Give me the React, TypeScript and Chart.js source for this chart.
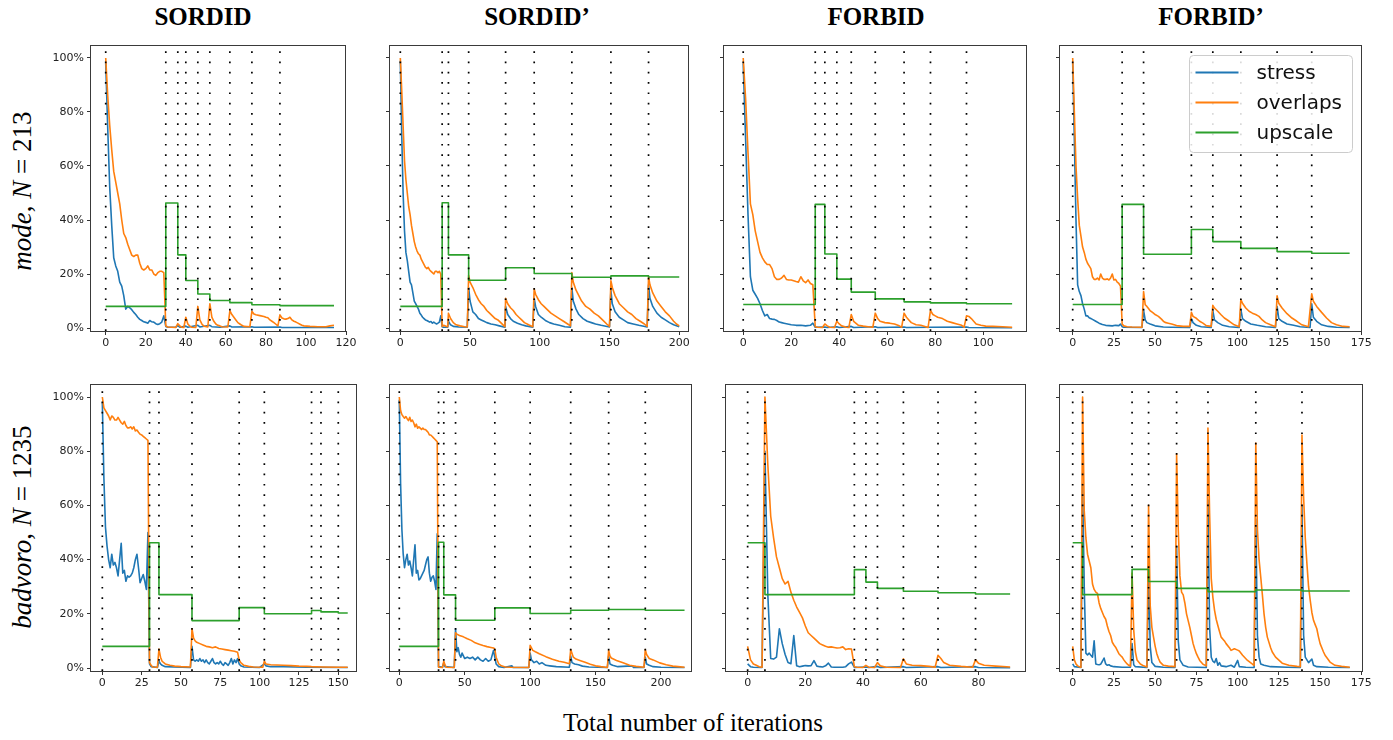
import React, { useEffect, useRef } from 'react';
import { Chart, registerables } from 'chart.js';

Chart.register(...registerables);

type Pt = [number, number];

// ---------- labels / ticks ----------
const seriesNames = ['stress', 'overlaps', 'upscale'];
const seriesColors = ['#1f77b4', '#ff7f0e', '#2ca02c'];
const columnTitles = ['SORDID', 'SORDID\u2019', 'FORBID', 'FORBID\u2019'];
const rowDatasets = ['mode', 'badvoro'];
const rowSizes = ['213', '1235'];
const xAxisTitle = 'Total number of iterations';
const yTicks = [0, 20, 40, 60, 80, 100];
const xTicks120 = [0, 20, 40, 60, 80, 100, 120];
const xTicks200 = [0, 50, 100, 150, 200];
const xTicks100 = [0, 20, 40, 60, 80, 100];
const xTicks175 = [0, 25, 50, 75, 100, 125, 150, 175];
const xTicks150 = [0, 25, 50, 75, 100, 125, 150];
const xTicks80 = [0, 20, 40, 60, 80];

// ---------- SORDID / mode ----------
const sordidModeBreaks = [0, 30, 36, 40, 46, 52, 62, 73, 87];
const sordidModeUpscale: Pt[] = [[0, 8], [30, 46.3], [36, 27.1], [40, 17.6], [46, 12.6], [52, 10.2], [62, 9.4], [73, 8.6], [87, 8.3], [114, 8.3]];
const sordidModeStress: Pt[] = [[0, 98], [1, 74], [2, 52], [3, 38], [4, 26], [5, 23], [6, 21], [7, 17], [8, 15.5], [9, 12], [10, 7], [11, 8], [12, 7.5], [13, 6.8], [14, 5.8], [15, 5], [16, 4], [17, 3.2], [18, 2.8], [19, 2.3], [20, 2.1], [21, 1.8], [22, 2.8], [23, 2.3], [24, 2.2], [25, 1.6], [26, 1.3], [27, 1.6], [28, 2.2], [29, 4.5], [30, 0.6], [31, 0.3], [35, 0.3], [36, 0.9], [37, 0.3], [40, 0.7], [41, 0.3], [46, 1], [47, 0.4], [52, 1], [53, 0.5], [57, 0.3], [62, 0.8], [63, 0.4], [73, 0.5], [74, 0.3], [87, 0.4], [88, 0.2], [114, 0.2]];
const sordidModeOverlaps: Pt[] = [[0, 100], [1, 86], [2, 75], [3, 66], [4, 58], [5, 54], [6, 50], [7, 46], [8, 40], [9, 35], [10, 33.5], [11, 31], [12, 29], [13, 27], [14, 26.5], [15, 27], [16, 27], [17, 24], [18, 22], [19, 21.5], [20, 22], [21, 23], [22, 21.5], [23, 21.5], [24, 20], [25, 19.5], [26, 20.5], [27, 21], [28, 21], [29, 20.5], [30, 0.8], [31, 0.4], [35, 0.2], [36, 1.6], [37, 0.8], [38, 0.3], [39, 0.2], [40, 4], [41, 1.5], [42, 0.7], [43, 0.3], [45, 0.2], [46, 8], [47, 3], [48, 1.5], [49, 0.7], [51, 0.4], [52, 9], [53, 4], [54, 2.5], [55, 1.5], [56, 1], [57, 0.8], [58, 0.5], [61, 0.4], [62, 6.4], [63, 5], [64, 4], [65, 3], [66, 2], [67, 1.5], [68, 1], [69, 0.6], [72, 0.5], [73, 6.2], [74, 5.2], [75, 4.9], [77, 4.6], [79, 4.3], [80, 4], [81, 3.8], [82, 3], [83, 2.5], [84, 2], [85, 1.4], [86, 0.8], [87, 4.9], [88, 3.7], [89, 3.4], [90, 3.3], [91, 3.5], [92, 4], [93, 3], [94, 2.5], [95, 2.2], [96, 1.8], [97, 1.4], [98, 1], [99, 0.8], [102, 0.6], [106, 0.5], [110, 0.5], [112, 0.8], [114, 1]];

// ---------- SORDID' / mode ----------
const sordidPModeBreaks = [0, 30, 34.5, 49, 75.5, 96, 123, 151, 178];
const sordidPModeUpscale: Pt[] = [[0, 8], [30, 46.4], [34.5, 27.1], [49, 17.7], [75.5, 22.3], [96, 20.2], [123, 18.8], [151, 19.3], [178, 18.9], [200, 18.9]];
const sordidPModeStress: Pt[] = [[0, 99], [1, 72], [2, 50], [3, 36], [4, 28], [5, 25], [6, 21], [7, 17], [8, 16], [9, 13], [10, 10], [11, 9], [12, 8], [13, 7], [14, 5.5], [15, 4.8], [16, 4], [17, 3.5], [18, 3], [19, 2.8], [20, 2.5], [21, 2.2], [22, 2.4], [23, 1.8], [24, 2.2], [25, 1.8], [26, 1.5], [27, 1.8], [28, 2.2], [29, 4.5], [30, 0.5], [31, 0.3], [34, 0.3], [34.5, 2.5], [36, 1.2], [38, 0.6], [42, 0.4], [48, 0.3], [49, 15], [50, 10], [51, 8], [52, 6], [54, 5], [56, 3.5], [58, 3], [60, 2.5], [62, 2], [65, 1.5], [68, 1.2], [71, 0.8], [75, 0.3], [75.5, 8], [77, 5], [79, 3.5], [81, 2.5], [84, 1.8], [87, 1.2], [90, 0.8], [95, 0.3], [96, 11], [97, 8], [99, 5], [101, 4], [104, 2.8], [107, 2], [110, 1.5], [114, 1], [118, 0.5], [122, 0.3], [123, 15], [124, 10], [126, 7], [128, 5], [131, 3.5], [134, 2.5], [137, 2], [140, 1.5], [144, 1], [150, 0.4], [151, 14], [152, 9], [154, 6], [157, 4], [160, 3], [163, 2], [167, 1.5], [171, 1], [177, 0.4], [178, 16], [179, 11], [181, 8], [184, 5.5], [187, 4], [190, 3], [193, 2], [196, 1.2], [200, 0.5]];
const sordidPModeOverlaps: Pt[] = [[0, 100], [1, 88], [2, 75], [3, 62], [4, 55], [5, 50], [6, 45], [7, 42], [8, 38], [9, 35], [10, 32], [11, 30], [12, 28.5], [13, 27.5], [14, 27], [15, 25.5], [16, 24.5], [17, 23.5], [18, 22.5], [19, 22], [20, 22.5], [21, 21.5], [22, 21], [23, 20.5], [24, 20], [25, 21], [26, 21], [27, 20.5], [28, 21], [29, 20], [30, 0.6], [31, 1], [32, 0.8], [33, 0.6], [34, 0.5], [34.5, 5.5], [36, 3.5], [38, 2], [40, 1.2], [43, 0.8], [46, 0.5], [48, 0.4], [49, 19.5], [50, 17], [52, 15], [54, 12.5], [56, 10.5], [58, 9], [60, 8], [62, 6.5], [64, 5.5], [66, 4.5], [68, 3.5], [70, 3], [72, 2], [74, 1], [75, 0.5], [75.5, 11], [77, 9], [79, 7.5], [81, 6.5], [83, 5], [85, 4], [87, 3], [89, 2], [92, 1.2], [95, 0.5], [96, 14.5], [97, 12.5], [99, 10.5], [101, 9], [103, 8], [105, 7], [108, 5.5], [111, 4.5], [114, 3.5], [117, 2.5], [120, 1.5], [122, 0.8], [123, 20.5], [124, 17], [126, 14], [128, 12], [130, 10], [133, 8], [136, 7], [139, 5.5], [142, 4.5], [145, 3], [148, 1.5], [150, 0.6], [151, 17.5], [152, 15], [154, 12], [157, 9], [160, 7.5], [163, 6], [166, 5], [169, 3.5], [172, 2.5], [175, 1.5], [177, 0.6], [178, 19], [179, 16], [181, 13], [184, 10], [187, 8], [190, 6], [193, 4.5], [196, 2.5], [198, 1.5], [200, 0.8]];

// ---------- FORBID / mode ----------
const forbidModeBreaks = [0, 30, 34, 39, 45, 55, 67, 78, 93];
const forbidModeUpscale: Pt[] = [[0, 8.7], [30, 45.8], [34, 27.4], [39, 18.1], [45, 13.3], [55, 10.8], [67, 9.7], [78, 9.3], [93, 9.0], [112, 9.0]];
const forbidModeStress: Pt[] = [[0, 98], [1, 70], [2, 42], [3, 19], [4, 14], [5, 12.5], [6, 11], [7, 9], [8, 6.5], [9, 4.5], [10, 5], [11, 3.5], [12, 3.3], [13, 3.2], [14, 2.8], [15, 2.2], [16, 2], [17, 1.8], [18, 1.6], [19, 1.4], [20, 1.2], [22, 1], [24, 1], [26, 0.8], [28, 1], [29, 1.8], [30, 0.3], [34, 0.4], [35, 0.2], [39, 0.5], [40, 0.2], [45, 0.6], [46, 0.2], [55, 0.5], [56, 0.2], [67, 0.4], [68, 0.2], [78, 0.3], [93, 0.4], [94, 0.2], [112, 0.1]];
const forbidModeOverlaps: Pt[] = [[0, 100], [1, 85], [2, 65], [3, 46], [4, 42], [5, 36], [6, 32], [7, 28], [8, 26], [9, 24.5], [10, 23.5], [11, 23.5], [12, 22], [13, 19], [14, 18], [15, 18], [16, 18.5], [17, 19.5], [18, 18], [19, 17.8], [20, 17.8], [21, 17.5], [22, 17.2], [23, 17], [24, 19], [25, 17.5], [26, 16.8], [27, 17.8], [28, 16.5], [29, 16], [30, 0.5], [31, 0.3], [33, 0.2], [34, 1.5], [35, 0.8], [36, 0.3], [38, 0.2], [39, 2.5], [40, 1.5], [41, 0.8], [43, 0.3], [44, 0.2], [45, 5], [46, 2.5], [48, 1], [50, 0.7], [52, 0.5], [54, 0.3], [55, 5.5], [56, 3.5], [57, 2.5], [59, 2], [61, 1.8], [63, 1.5], [65, 0.8], [66, 0.3], [67, 5.5], [68, 4], [69, 3], [70, 2], [72, 1.2], [74, 1], [76, 0.5], [77, 0.2], [78, 6.5], [79, 5], [80, 4.5], [81, 4], [83, 3.5], [85, 2.5], [87, 2], [89, 1.5], [91, 1], [92, 0.3], [93, 4.5], [94, 4.3], [95, 3.5], [96, 2.5], [97, 1.5], [99, 1], [101, 0.7], [104, 0.6], [108, 0.5], [112, 0.3]];

// ---------- FORBID' / mode ----------
const forbidPModeBreaks = [0, 30, 43, 72, 85, 102, 124, 145];
const forbidPModeUpscale: Pt[] = [[0, 8.7], [30, 45.8], [43, 27.3], [72, 36.5], [85, 32], [102, 29.5], [124, 28.3], [145, 27.7], [168, 27.7]];
const forbidPModeStress: Pt[] = [[0, 98], [1, 70], [2, 40], [3, 16], [4, 13.5], [5, 12], [6, 9], [7, 7], [8, 4.5], [9, 4.5], [10, 3.8], [11, 3.5], [12, 3.2], [14, 2.5], [16, 1.8], [18, 1.3], [20, 1], [22, 0.9], [24, 0.8], [26, 1], [28, 0.9], [29, 1.5], [30, 0.5], [31, 0.3], [42, 0.2], [43, 6.5], [44, 3], [45, 2], [47, 1.5], [50, 0.8], [55, 0.4], [60, 0.3], [71, 0.2], [72, 3.5], [73, 2], [75, 1], [78, 0.5], [84, 0.2], [85, 6.5], [86, 3], [88, 2], [91, 1], [95, 0.5], [101, 0.2], [102, 7], [103, 3.5], [105, 2.5], [108, 1.5], [112, 1], [117, 0.5], [123, 0.2], [124, 8], [125, 3.5], [127, 2.5], [130, 1.5], [134, 1], [138, 0.5], [144, 0.2], [145, 9], [146, 4], [148, 2.5], [151, 1.2], [155, 0.6], [160, 0.3], [168, 0.2]];
const forbidPModeOverlaps: Pt[] = [[0, 100], [1, 80], [2, 60], [3, 48], [4, 38], [5, 34], [6, 30], [7, 28], [8, 25.5], [9, 24], [10, 23], [11, 22], [12, 19], [13, 18], [14, 18], [15, 18.5], [16, 17.8], [17, 20], [18, 18.5], [19, 18], [20, 18], [21, 18.2], [22, 17.8], [23, 18.5], [24, 20], [25, 17.8], [26, 18], [27, 17], [28, 16.5], [29, 15.5], [30, 1.5], [31, 0.8], [33, 0.5], [36, 0.4], [42, 0.3], [43, 13.5], [44, 8.6], [45, 8], [46, 7.2], [47, 6.4], [48, 6], [49, 5.5], [50, 5], [52, 4.3], [54, 3.2], [55, 2.5], [56, 2.1], [58, 1.8], [60, 1.5], [63, 0.9], [67, 0.6], [71, 0.6], [72, 5.8], [73, 4.3], [75, 3.6], [77, 2.5], [79, 1.8], [81, 0.9], [84, 0.6], [85, 8.4], [86, 7.4], [88, 6.2], [90, 4.9], [92, 3.7], [95, 2.5], [98, 1.2], [101, 0.5], [102, 10.5], [103, 9.2], [105, 7.4], [107, 6.2], [109, 5.5], [111, 5], [113, 4.3], [115, 3], [117, 2], [120, 1.2], [123, 0.5], [124, 11.9], [125, 9.2], [127, 7.4], [130, 5.3], [133, 3.7], [136, 2.5], [139, 1.2], [143, 0.5], [145, 12.7], [146, 9.9], [148, 8], [151, 5.8], [154, 3.7], [157, 2], [160, 1.2], [164, 0.6], [168, 0.5]];

// ---------- SORDID / badvoro ----------
const sordidBadBreaks = [0, 30, 36, 57, 87, 103, 133, 139, 150];
const sordidBadUpscale: Pt[] = [[0, 8], [30, 46.2], [36, 27.1], [57, 17.5], [87, 22.3], [103, 20], [133, 21.2], [139, 20.7], [150, 20.3], [156, 20.3]];
const sordidBadStress: Pt[] = [[0, 98], [1, 70], [2, 52], [3, 45], [4, 40], [5, 37], [6, 42], [7, 38], [8, 39], [9, 37], [10, 34], [11, 40], [12, 46], [13, 35], [14, 36], [15, 32], [16, 34], [17, 33.5], [18, 34], [19, 35], [20, 37], [21, 40], [22, 42], [23, 37], [24, 31.5], [25, 33], [26, 34.5], [27, 32], [28, 29], [29, 50], [30, 1.5], [31, 0.5], [35, 0.2], [36, 2.5], [37, 1.5], [38, 1], [40, 0.5], [56, 0.2], [57, 8], [58, 3], [59, 2.5], [60, 3], [61, 2.5], [62, 3.5], [63, 2.5], [64, 3], [65, 2], [66, 3], [67, 2], [68, 1.5], [69, 2.5], [70, 3.5], [71, 2], [72, 1.5], [73, 2], [74, 1.5], [75, 2.5], [76, 1.5], [77, 1], [78, 2], [79, 1.5], [80, 1], [81, 2], [82, 3.5], [83, 1.5], [84, 3], [85, 2], [86, 3.5], [87, 1.5], [88, 0.8], [90, 0.4], [100, 0.2], [103, 1.5], [104, 0.8], [107, 0.5], [115, 0.5], [130, 0.3], [156, 0.2]];
const sordidBadOverlaps: Pt[] = [[0, 100], [1, 96], [2, 95], [3, 94], [4, 93], [5, 91.5], [6, 93], [7, 92.5], [8, 91.5], [9, 91.5], [10, 92.5], [11, 91.5], [12, 90.5], [13, 90], [14, 91], [15, 89.5], [16, 88.6], [17, 88.6], [18, 89], [19, 88.2], [20, 89], [21, 87.5], [22, 87.8], [23, 87], [24, 86.3], [25, 86], [26, 85.5], [27, 85], [28, 84.5], [29, 84], [30, 2], [31, 1], [32, 0.4], [35, 0.3], [36, 7], [37, 4], [38, 2.5], [40, 1.5], [43, 1], [46, 0.7], [50, 0.5], [56, 0.4], [57, 14.5], [58, 11], [59, 10], [60, 9.5], [62, 9], [64, 8.5], [66, 8], [68, 7.8], [70, 7.5], [72, 7.8], [74, 7.2], [76, 7], [78, 6.8], [80, 6.6], [82, 6.4], [84, 6.2], [86, 5.8], [87, 3], [88, 2], [90, 1], [93, 0.6], [96, 0.4], [102, 0.3], [103, 2.5], [104, 1.5], [107, 1.2], [111, 1.1], [115, 1], [120, 0.9], [125, 0.7], [130, 0.6], [133, 0.5], [140, 0.4], [150, 0.3], [156, 0.3]];

// ---------- SORDID' / badvoro ----------
const sordidPBadBreaks = [0, 30, 34, 43, 73, 100, 131, 160, 188];
const sordidPBadUpscale: Pt[] = [[0, 8], [30, 46.4], [34, 27], [43, 17.6], [73, 22.2], [100, 20.1], [131, 21.3], [160, 21.6], [188, 21.3], [218, 21.3]];
const sordidPBadStress: Pt[] = [[0, 99], [1, 68], [2, 51], [3, 42], [4, 37], [5, 40], [6, 42], [7, 38], [8, 39.5], [9, 37], [10, 34], [11, 40], [12, 45.5], [13, 35], [14, 36], [15, 32.5], [16, 33], [17, 34], [18, 35], [19, 36], [20, 38], [21, 40], [22, 41], [23, 35], [24, 32], [25, 33.5], [26, 34], [27, 32], [28, 29], [29, 49.5], [30, 0.5], [33, 0.3], [34, 2], [35, 0.5], [42, 0.2], [43, 14.5], [44, 6], [45, 7.5], [46, 5], [47, 4], [48, 5.5], [50, 3.5], [52, 4], [54, 3.5], [56, 4], [58, 3], [60, 4], [62, 3], [64, 2.5], [66, 3.5], [68, 2.5], [70, 3], [72, 6.5], [73, 4], [74, 1.5], [76, 0.5], [80, 0.2], [86, 0.8], [87, 0.2], [99, 0.2], [100, 5.5], [101, 3], [103, 2], [105, 2.5], [107, 1.5], [109, 2], [112, 1], [115, 0.8], [120, 0.5], [130, 0.3], [131, 4.5], [132, 2], [134, 1.5], [137, 1.2], [140, 0.7], [145, 0.4], [159, 0.2], [160, 4.5], [161, 1.5], [163, 1], [167, 0.5], [178, 0.8], [179, 0.2], [187, 0.2], [188, 4], [189, 1.5], [191, 1], [194, 0.5], [200, 0.3], [218, 0.2]];
const sordidPBadOverlaps: Pt[] = [[0, 100], [1, 95], [2, 93.5], [3, 92.8], [4, 92.2], [5, 92.8], [6, 92], [7, 91.3], [8, 92.5], [9, 91], [10, 91.5], [11, 90.5], [12, 89], [13, 90], [14, 88.5], [15, 89], [16, 88.5], [17, 88], [18, 88.5], [19, 88], [20, 88], [21, 87.5], [22, 87], [23, 86], [24, 86], [25, 85.5], [26, 85], [27, 84.5], [28, 84], [29, 83.5], [30, 0.3], [33, 0.2], [34, 2.5], [35, 1], [36, 0.3], [42, 0.2], [43, 13], [44, 12.5], [46, 12], [49, 11.5], [52, 10.8], [55, 10.2], [58, 9.3], [61, 8.8], [64, 8.3], [67, 7.9], [70, 7.6], [72, 7.4], [73, 7], [74, 4], [76, 1.5], [78, 0.8], [81, 0.4], [85, 0.3], [99, 0.2], [100, 8.4], [102, 6.5], [104, 6], [107, 5.3], [112, 4.2], [117, 3.2], [122, 2.5], [126, 2.1], [130, 1.6], [131, 6.8], [133, 4], [135, 3.3], [138, 2.8], [142, 2.1], [146, 1.4], [150, 0.8], [154, 0.5], [159, 0.2], [160, 6.5], [161, 4.5], [162, 3.7], [166, 2.8], [171, 1.9], [176, 1], [181, 0.6], [187, 0.3], [188, 6.8], [189, 5], [191, 3.5], [194, 3], [199, 1.9], [204, 1.2], [209, 0.7], [213, 0.5], [218, 0.3]];

// ---------- FORBID / badvoro ----------
const forbidBadBreaks = [0, 6, 37, 41, 45, 54, 66, 79];
const forbidBadUpscale: Pt[] = [[0, 46.2], [6, 27.1], [37, 36.3], [41, 31.7], [45, 29.4], [54, 28.3], [66, 27.8], [79, 27.3], [91, 27.3]];
const forbidBadStress: Pt[] = [[0, 1.5], [1, 0.5], [2, 0.3], [5, 0.2], [6, 80], [7, 27], [8, 3.5], [9, 3.3], [10, 4], [11, 14.5], [12, 9], [13, 5], [14, 2], [15, 1.6], [16, 12], [17, 0.8], [18, 0.5], [19, 0.7], [20, 0.9], [21, 0.8], [22, 0.9], [23, 2.7], [24, 0.7], [25, 0.5], [26, 0.4], [27, 0.8], [28, 1.8], [29, 0.4], [30, 0.3], [33, 0.3], [34, 0.5], [35, 1.5], [36, 2.2], [37, 0.2], [41, 0.4], [42, 0.2], [45, 0.6], [46, 0.2], [54, 0.5], [55, 0.2], [66, 0.5], [67, 0.2], [79, 0.5], [80, 0.2], [91, 0.1]];
const forbidBadOverlaps: Pt[] = [[0, 8], [1, 3], [2, 1.5], [3, 1], [4, 0.5], [5, 0.3], [6, 100], [7, 75], [8, 56], [9, 48], [10, 41], [11, 37], [12, 33], [13, 31], [14, 32], [15, 28], [16, 25], [17, 22.5], [18, 20.5], [19, 18.5], [20, 15.5], [21, 13], [22, 12], [23, 11], [24, 10], [25, 9], [26, 8.5], [27, 8], [28, 7.7], [29, 7.8], [30, 7.6], [31, 7.4], [32, 7.5], [33, 7.8], [34, 6.8], [35, 7.1], [36, 7], [37, 0.5], [38, 0.3], [40, 0.2], [41, 1], [42, 0.3], [44, 0.2], [45, 2], [46, 0.8], [48, 0.3], [53, 0.2], [54, 3.4], [55, 1.5], [57, 1], [60, 0.9], [63, 0.6], [65, 0.3], [66, 4.7], [67, 3.5], [68, 2], [70, 1], [74, 0.6], [78, 0.3], [79, 3], [80, 1.8], [82, 1], [86, 0.7], [91, 0.4]];

// ---------- FORBID' / badvoro ----------
const forbidPBadBreaks = [0, 6, 36, 46, 63, 82, 111, 139];
const forbidPBadUpscale: Pt[] = [[0, 46.2], [6, 27.1], [36, 36.4], [46, 31.9], [63, 29.4], [82, 28.2], [111, 28.8], [139, 28.4], [168, 28.4]];
const forbidPBadStress: Pt[] = [[0, 1.5], [1, 0.5], [5, 0.2], [6, 68], [7, 30], [8, 5.5], [9, 4.8], [10, 5.5], [11, 4.7], [12, 4], [13, 10], [14, 1.5], [15, 1.3], [16, 1.2], [17, 1.4], [18, 2.5], [19, 3.7], [20, 1.5], [21, 1], [22, 1.2], [23, 0.8], [25, 0.5], [30, 0.3], [35, 0.3], [36, 9], [37, 1.2], [38, 0.5], [45, 0.2], [46, 35], [47, 8], [48, 2], [50, 0.6], [55, 0.3], [62, 0.2], [63, 45], [64, 10], [65, 3], [67, 1], [70, 0.4], [81, 0.2], [82, 62], [83, 15], [84, 4], [85, 2.5], [86, 2], [87, 3.5], [88, 1], [89, 2], [90, 0.8], [93, 0.5], [96, 1], [98, 0.3], [100, 2.8], [101, 0.5], [105, 0.3], [110, 0.2], [111, 55], [112, 12], [113, 4], [114, 1.5], [116, 1], [120, 0.5], [130, 0.3], [138, 0.2], [139, 60], [140, 12], [141, 4], [142, 3], [143, 2], [145, 3.3], [146, 1], [148, 0.5], [155, 0.3], [168, 0.2]];
const forbidPBadOverlaps: Pt[] = [[0, 8], [1, 3], [2, 1.5], [3, 0.8], [4, 0.5], [5, 0.3], [6, 100], [7, 58], [8, 48], [9, 42], [10, 39.5], [11, 37], [12, 31], [13, 29], [14, 28], [15, 27.5], [16, 24], [17, 22], [18, 20.5], [19, 19], [20, 18], [21, 15.5], [22, 13.5], [23, 12], [24, 9.5], [25, 8.5], [26, 7.7], [27, 6.5], [28, 5.3], [29, 4.6], [30, 4], [31, 3], [32, 2.2], [33, 1.5], [34, 1], [35, 0.7], [36, 35], [37, 14], [38, 6], [39, 3], [41, 1.5], [43, 0.8], [45, 0.4], [46, 60], [47, 23], [48, 15], [49, 11.4], [50, 8], [51, 5.3], [52, 3.5], [53, 2.2], [55, 1], [58, 0.7], [62, 0.5], [63, 79], [64, 51], [65, 34], [66, 28], [67, 27], [68, 24], [69, 20], [70, 17.5], [71, 15], [72, 12], [73, 9], [74, 7], [75, 5.3], [76, 4], [77, 2.8], [79, 1.4], [81, 0.8], [82, 88.5], [83, 57], [84, 33], [85, 26], [86, 21.3], [87, 18], [88, 15.7], [89, 13.5], [90, 11.4], [92, 10], [93, 9], [95, 7.5], [96, 6.5], [98, 7.1], [100, 6.6], [101, 6.3], [103, 4.7], [106, 2.8], [109, 1.4], [110, 1], [111, 83], [112, 51], [113, 40], [114, 33.6], [115, 27], [116, 20], [117, 15], [118, 11.4], [120, 7.5], [121, 5.9], [123, 4], [127, 1.8], [131, 1], [136, 0.6], [138, 0.5], [139, 86], [140, 63], [141, 48], [142, 38.5], [143, 30], [144, 25], [145, 20.5], [146, 17.6], [147, 16], [148, 14.5], [149, 11.5], [150, 9], [152, 6], [153, 4.7], [156, 2.2], [159, 1], [163, 0.6], [168, 0.3]];

// ---------- layout (positions only) ----------
const Y_MIN = -1.1;
const Y_MAX = 104.8;
const PAD_L = 46;
const PAD_T = 12;
const PAD_R = 18;
const PAD_B = 26;

type PanelDef = {
  box: [number, number, number, number];
  xMin: number;
  xMax: number;
  xTicks: number[];
  breaks: number[];
  stress: Pt[];
  overlaps: Pt[];
  upscale: Pt[];
  yLabels: boolean;
  legend: boolean;
};

const panels: PanelDef[] = [
  { box: [91, 45, 346, 331], xMin: -7.35, xMax: 120, xTicks: xTicks120, breaks: sordidModeBreaks, stress: sordidModeStress, overlaps: sordidModeOverlaps, upscale: sordidModeUpscale, yLabels: true, legend: false },
  { box: [390, 45, 689, 331], xMin: -7.4, xMax: 207, xTicks: xTicks200, breaks: sordidPModeBreaks, stress: sordidPModeStress, overlaps: sordidPModeOverlaps, upscale: sordidPModeUpscale, yLabels: false, legend: false },
  { box: [724, 45, 1027, 331], xMin: -8.0, xMax: 118.2, xTicks: xTicks100, breaks: forbidModeBreaks, stress: forbidModeStress, overlaps: forbidModeOverlaps, upscale: forbidModeUpscale, yLabels: false, legend: false },
  { box: [1060, 45, 1362, 331], xMin: -7.7, xMax: 175.5, xTicks: xTicks175, breaks: forbidPModeBreaks, stress: forbidPModeStress, overlaps: forbidPModeOverlaps, upscale: forbidPModeUpscale, yLabels: false, legend: true },
  { box: [91, 384, 357, 671], xMin: -7.2, xMax: 161.9, xTicks: xTicks150, breaks: sordidBadBreaks, stress: sordidBadStress, overlaps: sordidBadOverlaps, upscale: sordidBadUpscale, yLabels: true, legend: false },
  { box: [390, 384, 692, 671], xMin: -7.1, xMax: 223.7, xTicks: xTicks200, breaks: sordidPBadBreaks, stress: sordidPBadStress, overlaps: sordidPBadOverlaps, upscale: sordidPBadUpscale, yLabels: false, legend: false },
  { box: [726, 384, 1026, 671], xMin: -7.5, xMax: 96.5, xTicks: xTicks80, breaks: forbidBadBreaks, stress: forbidBadStress, overlaps: forbidBadOverlaps, upscale: forbidBadUpscale, yLabels: false, legend: false },
  { box: [1060, 384, 1363, 671], xMin: -7.7, xMax: 176, xTicks: xTicks175, breaks: forbidPBadBreaks, stress: forbidPBadStress, overlaps: forbidPBadOverlaps, upscale: forbidPBadUpscale, yLabels: false, legend: false },
];

const titleCenters = [203, 537, 876, 1211];
const rowCenters = [191, 527];

const toXY = (pts: Pt[]) => pts.map(([x, y]) => ({ x, y }));

const framePlugin = {
  id: 'frame',
  afterDraw(chart: any) {
    const { ctx, chartArea } = chart;
    ctx.save();
    ctx.strokeStyle = '#3a3a3a';
    ctx.lineWidth = 1;
    const l = Math.round(chartArea.left) - 0.5;
    const t = Math.round(chartArea.top) + 0.5;
    const r = Math.round(chartArea.right) - 0.5;
    const b = Math.round(chartArea.bottom) + 0.5;
    ctx.strokeRect(l, t, r - l, b - t);
    ctx.restore();
  },
};

const legendPlugin = {
  id: 'boxLegend',
  afterDraw(chart: any) {
    const { ctx, chartArea } = chart;
    const w = 163;
    const h = 97;
    const x = Math.round(chartArea.right - 10 - w) + 0.5;
    const y = Math.round(chartArea.top + 10) + 0.5;
    const rad = 4;
    ctx.save();
    ctx.beginPath();
    ctx.moveTo(x + rad, y);
    ctx.lineTo(x + w - rad, y);
    ctx.arcTo(x + w, y, x + w, y + rad, rad);
    ctx.lineTo(x + w, y + h - rad);
    ctx.arcTo(x + w, y + h, x + w - rad, y + h, rad);
    ctx.lineTo(x + rad, y + h);
    ctx.arcTo(x, y + h, x, y + h - rad, rad);
    ctx.lineTo(x, y + rad);
    ctx.arcTo(x, y, x + rad, y, rad);
    ctx.closePath();
    ctx.fillStyle = 'rgba(255,255,255,0.85)';
    ctx.fill();
    ctx.strokeStyle = '#cccccc';
    ctx.lineWidth = 1;
    ctx.stroke();
    ctx.font = '20px "DejaVu Sans"';
    ctx.textBaseline = 'middle';
    ctx.textAlign = 'left';
    seriesNames.forEach((name, i) => {
      const cy = y + 17 + i * 30;
      ctx.strokeStyle = seriesColors[i];
      ctx.lineWidth = 2;
      ctx.beginPath();
      ctx.moveTo(x + 6, cy);
      ctx.lineTo(x + 49, cy);
      ctx.stroke();
      ctx.fillStyle = '#111';
      ctx.fillText(name, x + 67, cy + 1);
    });
    ctx.restore();
  },
};

function Panel({ def }: { def: PanelDef }) {
  const ref = useRef<HTMLCanvasElement>(null);
  const [L, T, R, B] = def.box;
  const cw = R - L + PAD_L + PAD_R;
  const ch = B - T + PAD_T + PAD_B;

  useEffect(() => {
    if (!ref.current) return;
    const lineCommon = { pointRadius: 0, borderWidth: 1.6, fill: false, tension: 0, borderJoinStyle: 'round' as const };
    const breakData: any[] = [];
    def.breaks.forEach((b) => {
      breakData.push({ x: b, y: Y_MIN }, { x: b, y: Y_MAX }, { x: b, y: null });
    });
    const datasets: any[] = [
      { label: 'breaks', data: breakData, borderColor: '#000', borderWidth: 1.7, borderDash: [1.7, 8.6], pointRadius: 0, spanGaps: false, order: 0 },
      { label: seriesNames[2], data: toXY(def.upscale), borderColor: seriesColors[2], stepped: 'before', order: 1, ...lineCommon },
      { label: seriesNames[1], data: toXY(def.overlaps), borderColor: seriesColors[1], order: 2, ...lineCommon },
      { label: seriesNames[0], data: toXY(def.stress), borderColor: seriesColors[0], order: 3, ...lineCommon },
    ];
    const tickFont = { family: '"DejaVu Sans", sans-serif', size: 11 };
    const chart = new Chart(ref.current, {
      type: 'line',
      data: { datasets },
      options: {
        animation: false,
        responsive: false,
        maintainAspectRatio: false,
        devicePixelRatio: 1,
        layout: { padding: { left: 0, top: PAD_T, right: PAD_R, bottom: 0 } },
        plugins: { legend: { display: false }, tooltip: { enabled: false }, title: { display: false } },
        scales: {
          x: {
            type: 'linear',
            min: def.xMin,
            max: def.xMax,
            afterFit: (s: any) => { s.height = PAD_B; },
            afterBuildTicks: (s: any) => { s.ticks = def.xTicks.map((v) => ({ value: v })); },
            ticks: { autoSkip: false, maxRotation: 0, minRotation: 0, font: tickFont, color: '#222', padding: 2, callback: (v: any) => String(v) },
            grid: { drawOnChartArea: false, drawTicks: true, tickLength: 4, color: '#333', lineWidth: 1 },
            border: { display: false },
          },
          y: {
            type: 'linear',
            min: Y_MIN,
            max: Y_MAX,
            afterFit: (s: any) => { s.width = PAD_L; },
            afterBuildTicks: (s: any) => { s.ticks = yTicks.map((v) => ({ value: v })); },
            ticks: { display: def.yLabels, font: tickFont, color: '#222', padding: 3, callback: (v: any) => `${v}%` },
            grid: { drawOnChartArea: false, drawTicks: true, tickLength: 4, color: '#333', lineWidth: 1 },
            border: { display: false },
          },
        },
      } as any,
      plugins: def.legend ? [framePlugin, legendPlugin] : [framePlugin],
    });
    return () => chart.destroy();
  }, [def]);

  return (
    <canvas
      ref={ref}
      width={cw}
      height={ch}
      style={{ position: 'absolute', left: L - PAD_L, top: T - PAD_T, width: cw, height: ch }}
    />
  );
}

export default function App() {
  const serif = '"Liberation Serif", "Times New Roman", serif';
  return (
    <div style={{ position: 'absolute', left: 0, top: 0, width: 1393, height: 740, background: '#fff', overflow: 'hidden', fontFamily: serif, color: '#000' }}>
      {columnTitles.map((t, i) => (
        <div key={t} style={{ position: 'absolute', left: titleCenters[i] - 150, width: 300, top: 2, textAlign: 'center', fontWeight: 'bold', fontSize: 25, lineHeight: '30px', whiteSpace: 'nowrap' }}>{t}</div>
      ))}
      {rowDatasets.map((d, i) => (
        <div key={d} style={{ position: 'absolute', left: 22 - 150, top: rowCenters[i] - 15, width: 300, height: 30, lineHeight: '30px', textAlign: 'center', fontSize: 27, whiteSpace: 'nowrap', transform: 'rotate(-90deg)' }}>
          <i>{d}</i>, <i>N</i> = {rowSizes[i]}
        </div>
      ))}
      <div style={{ position: 'absolute', left: 693 - 250, width: 500, top: 708, textAlign: 'center', fontSize: 25, lineHeight: '30px', whiteSpace: 'nowrap' }}>{xAxisTitle}</div>
      {panels.map((p, i) => (
        <Panel key={i} def={p} />
      ))}
    </div>
  );
}
